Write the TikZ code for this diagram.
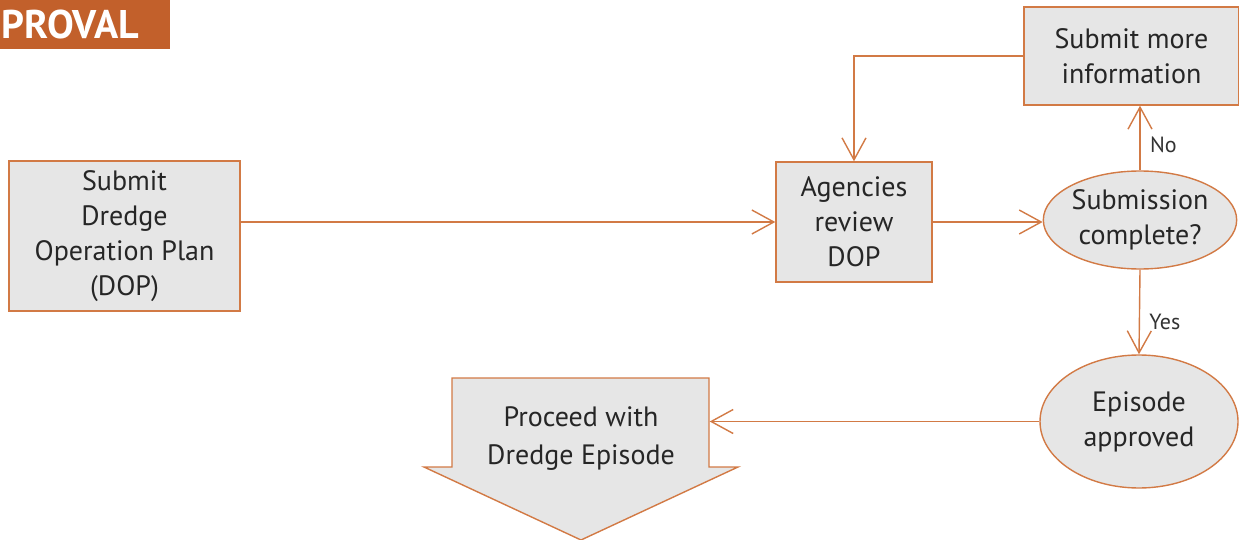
\documentclass[tikz,border=0pt]{standalone}
\usepackage{fontspec}
\setmainfont{PT Sans}
\usetikzlibrary{arrows.meta,shapes.geometric}
\definecolor{dopline}{HTML}{D27A45}
\definecolor{dopfill}{HTML}{E6E6E6}
\definecolor{banner}{HTML}{C2602B}
\begin{document}
\begin{tikzpicture}[x=1pt,y=-1pt,>={Straight Barb[length=22pt,width=24pt]},
line width=1.4pt,
step box/.style={rectangle,draw=dopline,fill=dopfill,align=center,inner sep=0pt,
  font=\fontsize{28}{35}\selectfont,text=black!85},
round node/.style={ellipse,draw=dopline,fill=dopfill,align=center,inner sep=0pt,
  font=\fontsize{28}{35}\selectfont,text=black!85},
flow/.style={->,draw=dopline},
flow label/.style={font=\fontsize{22}{25}\selectfont,text=black!80}]
\useasboundingbox (0,0) rectangle (1239,540);
% title banner
\fill[banner] (0,0) rectangle (170,49);
\node[anchor=west,text=white,font=\fontsize{40}{44}\selectfont\bfseries,inner sep=0pt] (title) at (1,25) {PROVAL};
% steps
\node[step box,minimum width=231pt,minimum height=150pt] (plan) at (124.5,236) {Submit\\Dredge\\Operation Plan\\(DOP)};
\node[step box,minimum width=156pt,minimum height=120pt] (review) at (854,222) {Agencies\\review\\DOP};
\node[round node,minimum width=188pt,minimum height=98pt] (complete) at (1140,220) {Submission\\complete?};
\node[step box,minimum width=215pt,minimum height=98pt] (more) at (1131.5,56) {Submit more\\information};
\node[round node,minimum width=198pt,minimum height=133pt] (approved) at (1139,421.5) {Episode\\approved};
% big down arrow
\filldraw[draw=dopline,fill=dopfill] (452,378) -- (709,378) -- (709,467) -- (738,467)
  -- (581,540) -- (424,467) -- (452,467) -- cycle;
\node[inner sep=0pt,minimum width=257pt,minimum height=89pt] (proceed) at (580.5,422.5) {};
\node[align=center,text=black!85,font=\fontsize{28}{38}\selectfont] (proceedtext) at (581,439) {Proceed with\\Dredge Episode};
% connectors
\path[draw=dopline] (plan.east |- review.west) edge[flow] (review.west)
(review.east) edge[flow] (review.east -| complete.west)
(complete.north) edge[flow] node[flow label,right=6pt,pos=0.4] {No} (complete.north |- more.south)
(complete.south) edge[flow] node[flow label,right=6pt,pos=0.62] {Yes} (approved.north)
(approved.west) edge[flow] (approved.west -| proceed.east);
\draw[flow] (more.west) -| (review.north);
\end{tikzpicture}
\end{document}
